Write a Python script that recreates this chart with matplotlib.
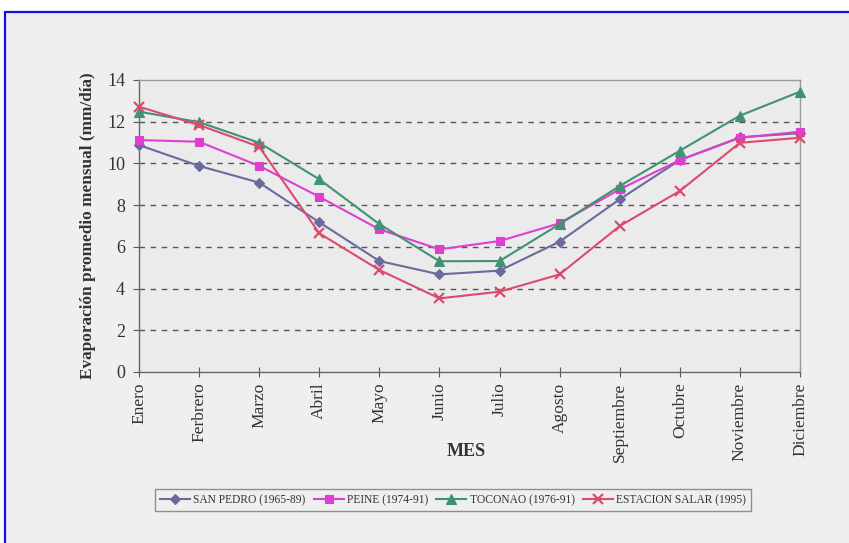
import matplotlib
matplotlib.use("Agg")
import matplotlib.pyplot as plt
from matplotlib.patches import Rectangle

meses = ["Enero", "Ferbrero", "Marzo", "Abril", "Mayo", "Junio", "Julio",
         "Agosto", "Septiembre", "Octubre", "Noviembre", "Diciembre"]

san_pedro = [10.88, 9.88, 9.08, 7.18, 5.32, 4.68, 4.86, 6.25, 8.28, 10.16, 11.25, 11.45]
peine = [11.12, 11.04, 9.88, 8.40, 6.84, 5.88, 6.28, 7.13, 8.76, 10.16, 11.23, 11.52]
toconao = [12.48, 11.98, 10.99, 9.24, 7.09, 5.31, 5.32, 7.09, 8.92, 10.61, 12.29, 13.44]
estacion_salar = [12.72, 11.84, 10.80, 6.65, 4.89, 3.53, 3.85, 4.68, 7.00, 8.68, 10.99, 11.23]

series = [
    ("SAN PEDRO (1965-89)", san_pedro, "#6a6a9e", "D", 5),
    ("PEINE (1974-91)", peine, "#dd3fd0", "s", 6),
    ("TOCONAO (1976-91)", toconao, "#3f9272", "^", 6.5),
    ("ESTACION SALAR (1995)", estacion_salar, "#dc4a6e", "x", 7),
]

plt.rcParams["font.family"] = ["Liberation Serif", "DejaVu Serif"]

fig = plt.figure(figsize=(8.49, 5.43), dpi=100, facecolor="white")
# light panel with blue frame running off the right and bottom edges
fig.patches.append(Rectangle((5 / 849, -0.1), 1, 1.1 - 12 / 543, transform=fig.transFigure,
                             facecolor="#efefef", edgecolor="#1010e0", linewidth=1.6,
                             zorder=-5))

ax = fig.add_axes([139 / 849, 1 - 372 / 543, (800 - 139) / 849, (372 - 80) / 543])
ax.set_zorder(2)
ax.set_facecolor("#ebebeb")

x = list(range(len(meses)))
for label, vals, color, marker, ms in series:
    ax.plot(x, vals, color=color, marker=marker, markersize=ms, linewidth=1.5,
            markeredgewidth=1.6 if marker == "x" else 0.8, label=label, zorder=3,
            clip_on=False)

ax.set_xlim(0, 11)
ax.set_ylim(0, 14)
ax.set_yticks(range(0, 15, 2))
ax.set_xticks(x)
ax.set_xticklabels(meses, rotation=90, fontsize=12.5)
ax.tick_params(axis="y", labelsize=13, colors="#555555", direction="out", length=4, pad=6)
ax.tick_params(axis="x", direction="inout", length=7, pad=4, colors="#555555")
for lbl in ax.get_xticklabels() + ax.get_yticklabels():
    lbl.set_color("#333333")

for yv in range(2, 14, 2):
    ax.axhline(yv, color="#555555", linestyle=(0, (4, 4)), linewidth=1.0, zorder=1)

for side in ["left", "bottom"]:
    ax.spines[side].set_color("#666666")
    ax.spines[side].set_linewidth(1.0)
for side in ["top", "right"]:
    ax.spines[side].set_color("#9a9a9a")
    ax.spines[side].set_linewidth(1.0)

ax.set_ylabel("Evaporación promedio mensual (mm/día)", fontsize=12.4, fontweight="bold",
              color="#333333", labelpad=8)
fig.text(466 / 849, 1 - 452 / 543, "MES", ha="center", va="center", fontsize=13,
         fontweight="bold", color="#333333")

leg = fig.legend(loc="center", bbox_to_anchor=(453 / 849, 1 - 500 / 543), ncol=4,
                 fontsize=8.3, frameon=True, fancybox=False, handlelength=2.6,
                 columnspacing=0.7, handletextpad=0.3, borderpad=0.4)
leg.get_frame().set_edgecolor("#777777")
leg.get_frame().set_facecolor("#efefef")
leg.get_frame().set_linewidth(1.0)
for t in leg.get_texts():
    t.set_color("#333333")

fig.savefig("out.png", dpi=100, facecolor=fig.get_facecolor())
